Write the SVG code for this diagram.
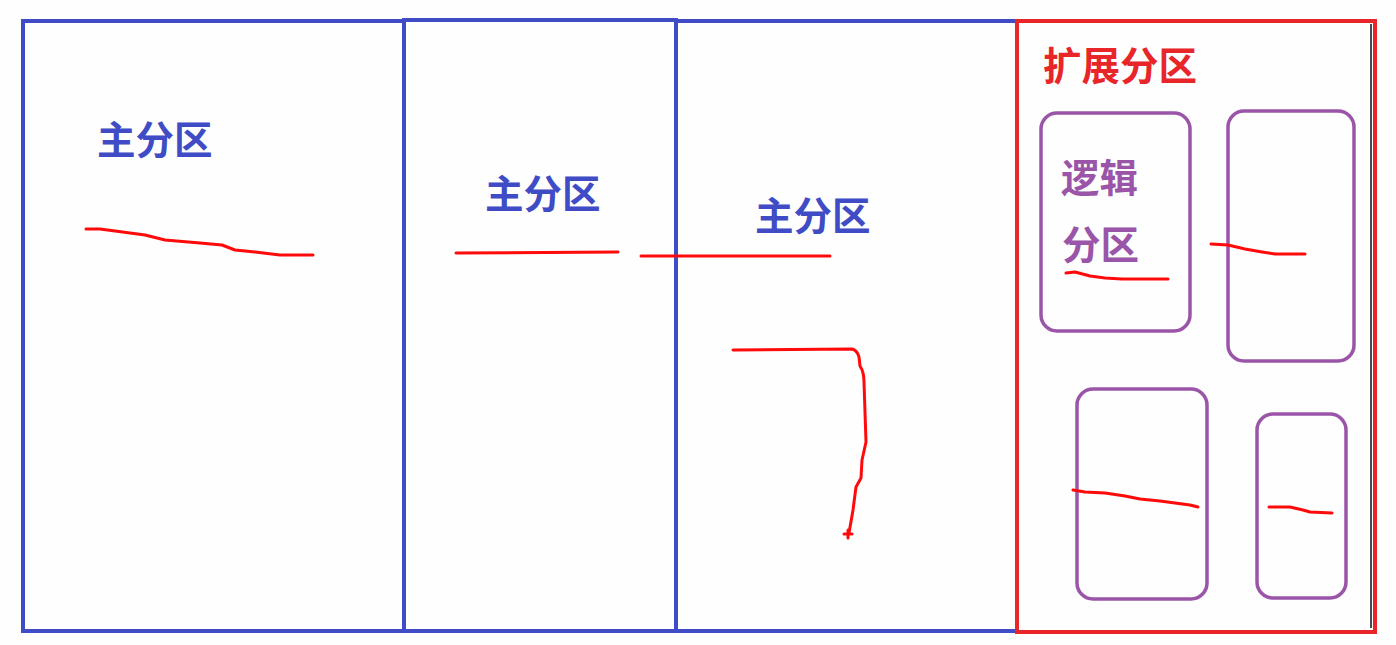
<svg xmlns="http://www.w3.org/2000/svg" width="1396" height="645" viewBox="0 0 1396 645">
<style>
.blue{fill:none;stroke:#3f4cc6;stroke-width:4}
.red{fill:none;stroke:#e8262a;stroke-width:4}
.purple{fill:none;stroke:#9a55a8;stroke-width:3.5}
.ink{fill:none;stroke:#ff0a0a;stroke-width:3;stroke-linecap:round;stroke-linejoin:round}
.t{font-family:"Noto Sans CJK SC","Noto Sans",sans-serif;font-weight:bold;font-size:38.5px}
.tb{fill:#3f4cc6}
.tr{fill:#e8262a}
.tp{fill:#9a55a8}
</style>
<rect width="1396" height="645" fill="#fefefe"/>
<g id="primary1">
<rect class="blue" x="23" y="21" width="381" height="610"/>
<text class="t tb" x="97" y="154">主分区</text>
</g>
<g id="primary2">
<rect class="blue" x="404" y="20" width="272" height="611"/>
<text class="t tb" x="485" y="208">主分区</text>
</g>
<g id="primary3">
<rect class="blue" x="676" y="21" width="341" height="610"/>
<text class="t tb" x="755" y="230">主分区</text>
</g>
<g id="extended">
<rect class="red" x="1017" y="21" width="358" height="611"/>
<line x1="1371" y1="24" x2="1371" y2="628" stroke="#111" stroke-width="1.5"/>
<text class="t tr" x="1043" y="80">扩展分区</text>
</g>
<g id="logical1">
<rect class="purple" x="1041" y="113" width="149" height="218" rx="16"/>
<text class="t tp" x="1061" y="192">逻辑</text>
<text class="t tp" x="1062" y="259">分区</text>
</g>
<g id="logical2">
<rect class="purple" x="1228" y="111" width="126" height="250" rx="16"/>
</g>
<g id="logical3">
<rect class="purple" x="1077" y="389" width="130" height="210" rx="16"/>
</g>
<g id="logical4">
<rect class="purple" x="1257" y="414" width="89" height="184" rx="16"/>
</g>
<g id="connectors">
<polyline class="ink" points="86,229 100,229 115,231 145,235 165,240 200,243 222,245 235,250 255,252 280,255 313,255"/>
<polyline class="ink" points="456,253 618,252"/>
<polyline class="ink" points="641,256 830,256"/>
<path class="ink" d="M733,350 L852,349 Q857,350 859,357 L860,366 Q864,372 864,382 L866,442 L862,460 L861,478 L856,487 L853,510 L849,533"/>
<path class="ink" stroke-width="1.5" d="M844,534 L852,534 M848,530 L848,538"/>
<polyline class="ink" points="1066,273 1075,272 1090,276 1105,278 1122,279 1168,279"/>
<polyline class="ink" points="1211,244 1228,245 1245,249 1262,252 1275,254 1305,254"/>
<polyline class="ink" points="1073,490 1085,492 1105,493 1125,496 1140,499 1160,501 1190,505 1198,507"/>
<polyline class="ink" points="1269,507 1290,507 1303,510 1310,512 1332,513"/>
</g>
</svg>
